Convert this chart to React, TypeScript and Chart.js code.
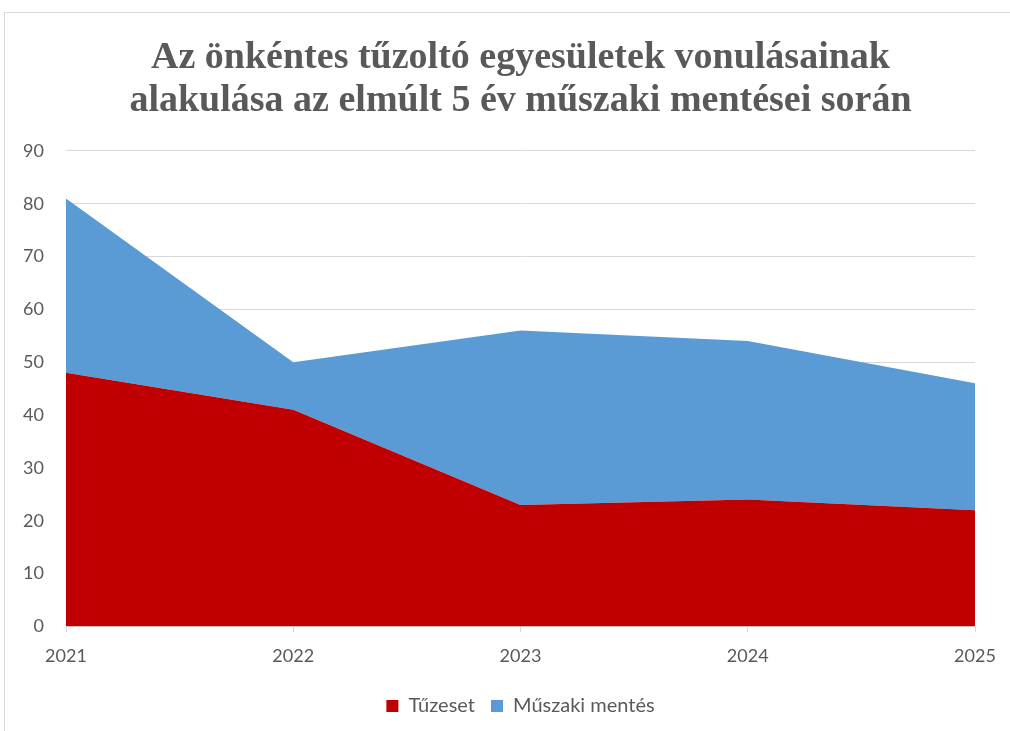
import React, { useEffect, useRef } from "react";
import { Chart, registerables } from "chart.js";

Chart.register(...registerables);

const years = ["2021", "2022", "2023", "2024", "2025"];
const tuzeset = [48, 41, 23, 24, 22];
const muszakiMentes = [33, 9, 33, 30, 24];
const titleLines = [
  "Az önkéntes tűzoltó egyesületek vonulásainak",
  "alakulása az elmúlt 5 év műszaki mentései során",
];
const yMax = 90;
const yStep = 10;

const TEXT = "#595959";
const GRID = "#D9D9D9";
const SANS = "Lato, 'Liberation Sans', sans-serif";

export default function App() {
  const ref = useRef<HTMLCanvasElement | null>(null);

  useEffect(() => {
    if (!ref.current) return;
    const chart = new Chart(ref.current, {
      type: "line",
      data: {
        labels: years,
        datasets: [
          {
            label: "Tűzeset",
            data: tuzeset,
            backgroundColor: "#C00000",
            borderColor: "#C00000",
            borderWidth: 0,
            pointRadius: 0,
            fill: "origin",
            tension: 0,
          },
          {
            label: "Műszaki mentés",
            data: muszakiMentes,
            backgroundColor: "#5B9BD5",
            borderColor: "#5B9BD5",
            borderWidth: 0,
            pointRadius: 0,
            fill: "-1",
            tension: 0,
          },
        ],
      },
      options: {
        animation: false,
        responsive: false,
        maintainAspectRatio: false,
        layout: { padding: { left: 0, right: 35, top: 12, bottom: 5 } },
        plugins: {
          title: {
            display: true,
            text: titleLines,
            color: TEXT,
            fullSize: false,
            font: { family: "'Liberation Serif', serif", size: 38, weight: "bold", lineHeight: 1.13 },
            padding: { top: 25, bottom: 28 },
          },
          legend: {
            position: "bottom",
            fullSize: false,
            labels: {
              color: TEXT,
              font: { family: SANS, size: 20 },
              boxWidth: 12,
              boxHeight: 12,
              padding: 16,
            },
          },
          tooltip: { enabled: false },
        },
        scales: {
          x: {
            offset: false,
            grid: {
              drawOnChartArea: false,
              drawTicks: true,
              tickLength: 6,
              color: GRID,
            },
            border: { display: true, color: GRID },
            ticks: {
              color: TEXT,
              font: { family: SANS, size: 18 },
              padding: 13,
              maxRotation: 0,
              autoSkip: false,
            },
          },
          y: {
            stacked: true,
            min: 0,
            max: yMax,
            afterFit: (scale: any) => {
              scale.width = 66;
            },
            grid: { color: GRID, drawTicks: false },
            border: { display: false },
            ticks: {
              stepSize: yStep,
              color: TEXT,
              font: { family: SANS, size: 18 },
              padding: 22,
            },
          },
        },
      },
    });
    return () => chart.destroy();
  }, []);

  return (
    <div style={{ position: "fixed", left: 0, top: 0, width: 1010, height: 731, background: "#fff", overflow: "hidden" }}>
      <div
        style={{
          position: "absolute",
          left: 4,
          top: 12,
          width: 1040,
          height: 760,
          border: "1px solid #D9D9D9",
          boxSizing: "border-box",
        }}
      />
      <canvas ref={ref} width={1010} height={731} style={{ position: "absolute", left: 0, top: 0 }} />
    </div>
  );
}
